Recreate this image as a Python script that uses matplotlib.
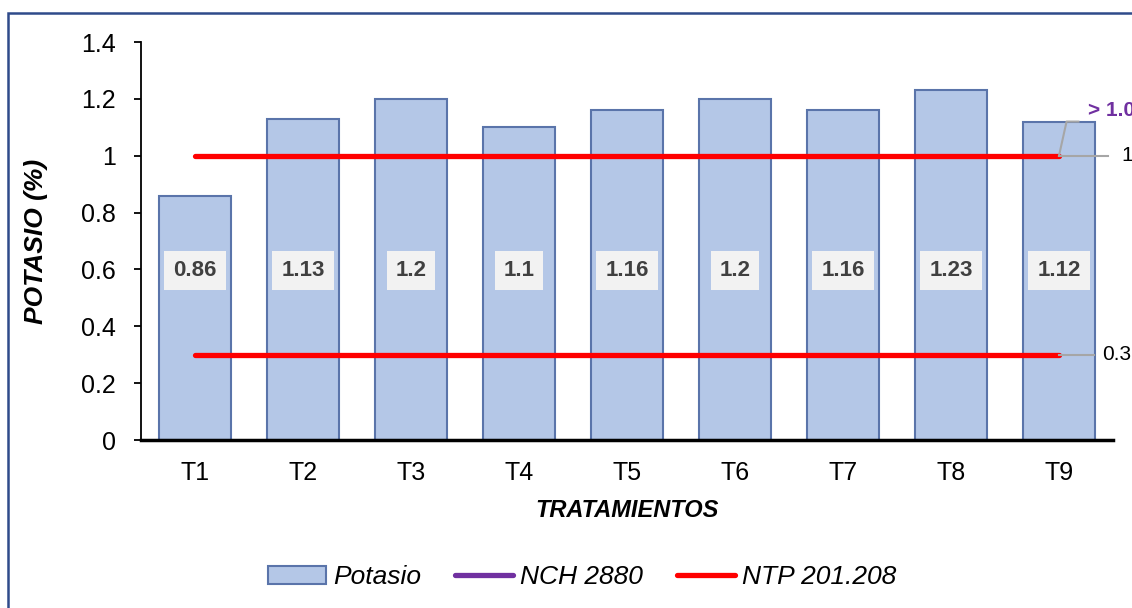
import matplotlib.pyplot as plt
import numpy as np
from matplotlib.patches import Rectangle
from matplotlib.lines import Line2D

tratamientos = ['T1', 'T2', 'T3', 'T4', 'T5', 'T6', 'T7', 'T8', 'T9']
potasio = [0.86, 1.13, 1.2, 1.1, 1.16, 1.2, 1.16, 1.23, 1.12]
ntp_max = 1.0
ntp_min = 0.3

plt.rcParams['font.family'] = ['Liberation Sans', 'DejaVu Sans']

fig = plt.figure(figsize=(11.32, 6.08), dpi=100)
ax = fig.add_axes([141 / 1132, 1 - 440 / 608, (1113 - 141) / 1132, 398 / 608])

x = np.arange(len(tratamientos))
ax.bar(x, potasio, width=0.67, color='#b4c7e7', edgecolor='#5a74aa', linewidth=1.5, zorder=2)

# limit lines (NTP 201.208)
ax.plot([x[0], x[-1]], [ntp_max, ntp_max], color='#ff0000', lw=3.8, solid_capstyle='round', zorder=3)
ax.plot([x[0], x[-1]], [ntp_min, ntp_min], color='#ff0000', lw=3.8, solid_capstyle='round', zorder=3)

# value labels
for xi, v in zip(x, potasio):
    ax.text(xi, 0.595, f'{v:g}', ha='center', va='center', fontsize=16, fontweight='bold',
            color='#404040', zorder=4,
            bbox=dict(boxstyle='square,pad=0.4', facecolor='#f2f2f2', edgecolor='none'))

# leader lines and labels at the right
ax.plot([x[-1], x[-1] + 0.45], [ntp_max, ntp_max], color='#a6a6a6', lw=1.5, zorder=4, clip_on=False)
ax.text(x[-1] + 0.58, ntp_max, '1', ha='left', va='center', fontsize=15, color='#000000')
ax.plot([x[-1], x[-1] + 0.32], [ntp_min, ntp_min], color='#a6a6a6', lw=1.5, zorder=4, clip_on=False)
ax.text(x[-1] + 0.4, ntp_min, '0.3', ha='left', va='center', fontsize=15, color='#000000')
ax.plot([x[-1], x[-1] + 0.07, x[-1] + 0.18], [ntp_max, 1.12, 1.12], color='#a6a6a6', lw=1.5,
        zorder=4, clip_on=False)
ax.text(x[-1] + 0.27, 1.16, '> 1.0', ha='left', va='center', fontsize=15, fontweight='bold',
        color='#7030a0', clip_on=False)

ax.set_xlim(-0.5, len(x) - 0.5)
ax.set_ylim(0, 1.4)
ax.set_yticks(np.arange(0, 1.41, 0.2))
ax.set_yticklabels(['0', '0.2', '0.4', '0.6', '0.8', '1', '1.2', '1.4'])
ax.set_xticks(x)
ax.set_xticklabels(tratamientos)
ax.tick_params(axis='y', labelsize=18, length=5, width=1.3, pad=13)
ax.tick_params(axis='x', labelsize=18, length=0, pad=15)
ax.spines['top'].set_visible(False)
ax.spines['right'].set_visible(False)
ax.spines['left'].set_linewidth(1.3)
ax.spines['bottom'].set_linewidth(2.5)

ax.set_xlabel('TRATAMIENTOS', fontsize=17, fontweight='bold', style='italic', labelpad=10)
ax.set_ylabel('POTASIO (%)', fontsize=19, fontweight='bold', style='italic', labelpad=24)

handles = [
    Rectangle((0, 0), 1, 1, facecolor='#b4c7e7', edgecolor='#5a74aa', linewidth=1.5),
    Line2D([0], [0], color='#7030a0', lw=3.8, solid_capstyle='round'),
    Line2D([0], [0], color='#ff0000', lw=3.8, solid_capstyle='round'),
]
leg = fig.legend(handles, ['Potasio', 'NCH 2880', 'NTP 201.208'], loc='center',
                 bbox_to_anchor=(582 / 1132, 1 - 577 / 608), ncol=3, frameon=False,
                 prop={'size': 19, 'style': 'italic'}, handlelength=2.2, handletextpad=0.25,
                 columnspacing=1.3)

# outer border of the chart area
fig.patches.append(Rectangle((8 / 1132, -0.1), 1.2, 1 - 13 / 608 + 0.1, transform=fig.transFigure,
                             fill=False, edgecolor='#2f4a8a', linewidth=1.8))

fig.savefig('out.png', dpi=100)
